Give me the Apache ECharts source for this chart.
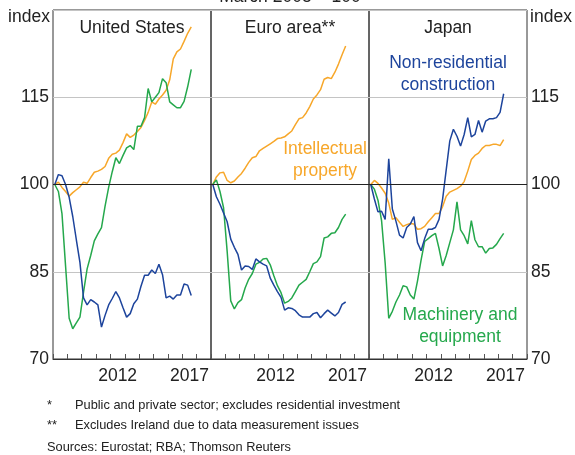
<!DOCTYPE html>
<html>
<head>
<meta charset="utf-8">
<script src="https://cdn.jsdelivr.net/npm/echarts@6/dist/echarts.min.js"></script>
<style>
  html, body { margin: 0; padding: 0; background: #fff; }
  #main { width: 575px; height: 455px; }
</style>
</head>
<body>
<div id="main"></div>
<script>
// quarterly index, March 2008 = 100
const years = ['2008', '2009', '2010', '2011', '2012', '2013', '2014', '2015', '2016', '2017', '2018']
const yTicks = [70, 85, 100, 115, 130]

const usIP = [100, 100.4, 99.5, 98.8, 98.0, 98.6, 99.1, 99.6, 100.4, 100.2, 101.2, 102.1, 102.3, 102.6, 103.1, 104.5, 105.2, 105.4, 105.9, 107.2, 108.7, 108.1, 108.5, 109.1, 109.8, 111.0, 112.4, 114.2, 113.8, 114.7, 115.4, 116.2, 118.0, 121.6, 122.8, 123.3, 124.6, 126.0, 127.1]
const usMach = [100, 98.8, 95.0, 86.0, 77.0, 75.2, 76.2, 77.2, 81.5, 85.5, 87.8, 90.3, 91.5, 92.6, 96.3, 99.5, 102.2, 104.6, 103.6, 105.0, 106.3, 106.7, 106.0, 110.0, 110.0, 111.5, 116.5, 114.2, 115.0, 115.8, 118.2, 117.5, 114.2, 113.7, 113.2, 113.2, 114.3, 116.8, 119.8]
const usCons = [100, 101.7, 101.5, 100.0, 97.8, 94.5, 90.5, 86.6, 80.5, 79.3, 80.2, 79.8, 79.3, 75.5, 77.5, 79.3, 80.4, 81.6, 80.5, 78.8, 77.2, 77.8, 79.5, 80.3, 82.5, 84.4, 84.4, 85.3, 84.7, 86.3, 84.5, 80.5, 80.8, 80.3, 81.0, 81.0, 82.9, 82.7, 80.9]

const euIP = [100, 101.3, 102.0, 102.1, 100.7, 100.3, 100.6, 101.3, 101.9, 102.8, 103.8, 104.6, 104.8, 105.8, 106.2, 106.6, 107.0, 107.4, 107.9, 108.0, 108.2, 108.7, 109.2, 110.3, 111.3, 111.5, 112.3, 113.4, 114.7, 115.4, 116.3, 118.1, 118.4, 118.2, 119.3, 120.7, 122.3, 123.8]
const euMach = [100, 100.8, 98.8, 96.0, 88.5, 80.0, 78.6, 79.7, 80.2, 82.2, 83.7, 84.7, 86.3, 86.6, 87.2, 87.3, 86.2, 84.3, 82.6, 81.4, 79.6, 79.9, 80.5, 81.6, 82.7, 83.2, 83.7, 85.0, 86.4, 86.7, 87.6, 90.8, 91.0, 91.6, 91.7, 92.6, 94.0, 94.9]
const euCons = [100, 97.9, 96.6, 95.1, 93.6, 90.6, 89.2, 88.0, 85.3, 86.0, 85.9, 85.4, 87.2, 86.7, 86.3, 86.0, 83.9, 82.7, 81.6, 80.6, 78.4, 78.8, 78.7, 78.3, 77.6, 77.2, 77.2, 77.2, 77.8, 78.0, 77.1, 77.8, 78.4, 77.9, 77.4, 78.0, 79.4, 79.8]

const jpIP = [100, 100.7, 100.2, 99.4, 98.5, 96.8, 94.0, 94.3, 93.5, 92.8, 93.1, 93.3, 93.2, 92.3, 92.4, 92.8, 93.6, 94.3, 95.0, 95.0, 96.2, 98.0, 98.7, 99.0, 99.3, 99.7, 100.5, 102.3, 104.3, 105.0, 105.4, 106.2, 106.7, 106.7, 106.9, 106.9, 106.7, 107.7]
const jpMach = [100, 99.2, 97.3, 93.8, 86.5, 77.0, 78.2, 79.8, 81.0, 82.6, 82.4, 81.0, 80.3, 83.4, 87.0, 90.2, 90.7, 91.2, 91.6, 89.0, 86.0, 87.8, 90.0, 92.2, 97.0, 92.2, 91.2, 89.8, 93.8, 90.5, 89.3, 89.3, 88.2, 89.0, 89.1, 89.7, 90.7, 91.6]
const jpCons = [100, 97.5, 95.3, 95.4, 94.0, 104.4, 95.8, 93.7, 91.3, 90.8, 92.6, 93.2, 94.5, 90.0, 88.6, 90.7, 92.3, 92.3, 92.6, 94.0, 97.5, 102.5, 107.5, 109.5, 108.3, 106.6, 108.6, 111.5, 108.2, 108.6, 111.0, 109.0, 110.9, 111.3, 111.3, 111.5, 112.4, 115.6]

const BLUE = '#1d449c'
const ORANGE = '#f7a72a'
const GREEN = '#25a84c'
const FONT = 'Arial, "Liberation Sans", sans-serif'
const FS = 17.5

// quarter i -> position in years (mid quarter, from March 2008)
function toPairs (arr) {
  return arr.map((v, i) => [2008.125 + 0.25 * i, v])
}

const panels = [
  { title: 'United States', ip: usIP, mach: usMach, cons: usCons },
  { title: 'Euro area**', ip: euIP, mach: euMach, cons: euCons },
  { title: 'Japan', ip: jpIP, mach: jpMach, cons: jpCons }
]
const lefts = [53, 211, 369]

const grids = []
const xAxes = []
const yAxes = []
const series = []
panels.forEach((p, g) => {
  grids.push({
    left: lefts[g], top: 10, width: 158, height: 349,
    show: true, borderColor: '#333', borderWidth: 1, backgroundColor: 'transparent'
  })
  xAxes.push({
    type: 'category', gridIndex: g, data: years, boundaryGap: true,
    axisLine: { show: true, lineStyle: { color: '#333' } },
    axisTick: { show: true, inside: true, length: 5, interval: 0, lineStyle: { color: '#555' } },
    axisLabel: {
      interval: 0, margin: 8, fontSize: FS, color: '#222', fontFamily: FONT,
      formatter: v => (v === '2012' || v === '2017') ? v : ''
    },
    splitLine: { show: false }
  })
  xAxes.push({ type: 'value', gridIndex: g, min: 2008, max: 2019, show: false })
  yAxes.push({
    type: 'value', gridIndex: g, min: 70, max: 130, interval: 15,
    position: g === 2 ? 'right' : 'left',
    axisLine: { show: false },
    axisTick: { show: false },
    axisLabel: {
      show: g !== 1, fontSize: FS, color: '#222', fontFamily: FONT, margin: 4,
      formatter: v => (v === 130 ? '' : String(v))
    },
    splitLine: { show: true, lineStyle: { color: '#c4c4c4', width: 1 } }
  })
  const xi = 2 * g + 1
  series.push({
    type: 'line', xAxisIndex: xi, yAxisIndex: g, data: toPairs(p.ip),
    showSymbol: false, lineStyle: { color: ORANGE, width: 1.5 }, z: 3,
    markLine: {
      silent: true, symbol: 'none', label: { show: false },
      lineStyle: { color: '#222', width: 1, type: 'solid' },
      data: [{ yAxis: 100 }]
    }
  })
  series.push({
    type: 'line', xAxisIndex: xi, yAxisIndex: g, data: toPairs(p.mach),
    showSymbol: false, lineStyle: { color: GREEN, width: 1.5 }, z: 3
  })
  series.push({
    type: 'line', xAxisIndex: xi, yAxisIndex: g, data: toPairs(p.cons),
    showSymbol: false, lineStyle: { color: BLUE, width: 1.5 }, z: 4
  })
})

function txt (x, y, text, opts) {
  return {
    type: 'text', x: x, y: y, silent: true,
    style: Object.assign({
      text: text, fill: '#222', font: FS + 'px ' + FONT,
      textAlign: 'center', textVerticalAlign: 'middle'
    }, opts || {})
  }
}

const small = '12.8px ' + FONT
const graphics = [
  txt(290, -3, 'March 2008 = 100'),
  txt(29, 17, 'index'),
  txt(551, 17, 'index'),
  txt(132, 28, panels[0].title),
  txt(290, 28, panels[1].title),
  txt(448, 28, panels[2].title),
  txt(448, 63, 'Non-residential', { fill: BLUE }),
  txt(448, 85, 'construction', { fill: BLUE }),
  txt(325, 149, 'Intellectual', { fill: ORANGE }),
  txt(325, 171, 'property', { fill: ORANGE }),
  txt(460, 315, 'Machinery and', { fill: GREEN }),
  txt(460, 337, 'equipment', { fill: GREEN }),
  txt(47, 405, '*', { textAlign: 'left', font: small }),
  txt(75, 405, 'Public and private sector; excludes residential investment', { textAlign: 'left', font: small }),
  txt(47, 425, '**', { textAlign: 'left', font: small }),
  txt(75, 425, 'Excludes Ireland due to data measurement issues', { textAlign: 'left', font: small }),
  txt(47, 447, 'Sources: Eurostat; RBA; Thomson Reuters', { textAlign: 'left', font: small })
]

const chart = echarts.init(document.getElementById('main'), null, { renderer: 'canvas' })
chart.setOption({
  animation: false,
  backgroundColor: '#fff',
  grid: grids,
  xAxis: xAxes,
  yAxis: yAxes,
  series: series,
  graphic: graphics
})
</script>
</body>
</html>
